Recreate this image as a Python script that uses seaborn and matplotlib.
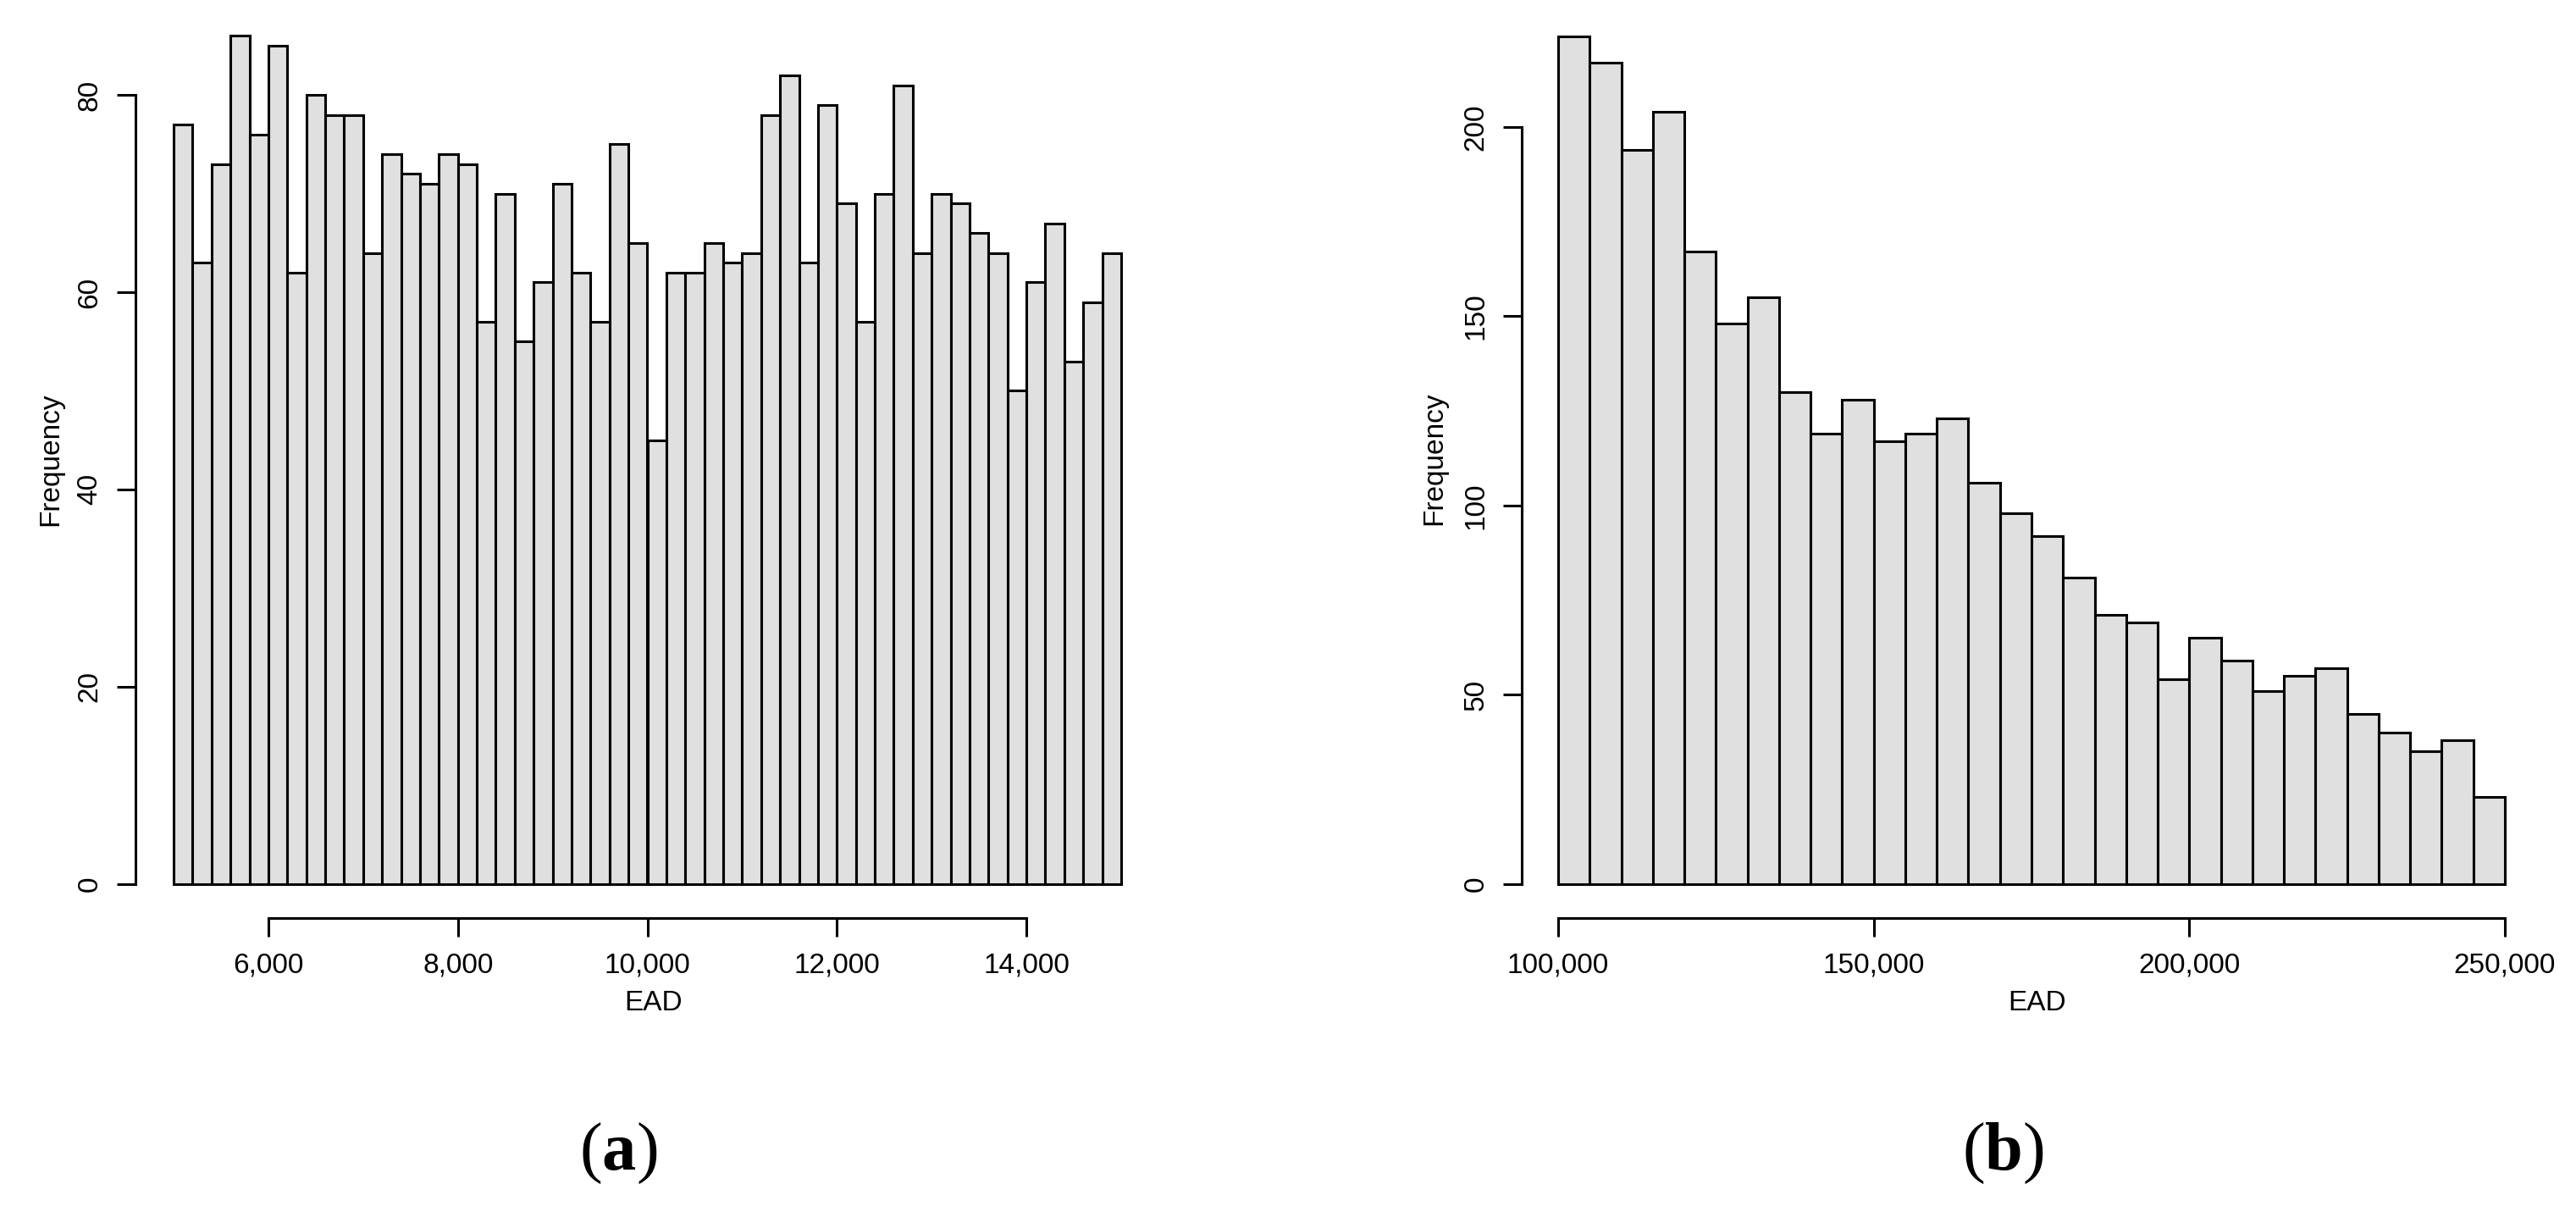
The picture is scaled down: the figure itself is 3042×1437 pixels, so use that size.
import numpy as np
import pandas as pd
import seaborn as sns
import matplotlib.pyplot as plt
from matplotlib.ticker import StrMethodFormatter

# panel (a): EAD 5,000 - 15,000, bins of 200
a_range = (5000, 15000)
a_width = 200
a_counts = [77, 63, 73, 86, 76, 85, 62, 80, 78, 78,
            64, 74, 72, 71, 74, 73, 57, 70, 55, 61,
            71, 62, 57, 75, 65, 45, 62, 62, 65, 63,
            64, 78, 82, 63, 79, 69, 57, 70, 81, 64,
            70, 69, 66, 64, 50, 61, 67, 53, 59, 64]
a_xticks = [6000, 8000, 10000, 12000, 14000]
a_yticks = [0, 20, 40, 60, 80]

# panel (b): EAD 100,000 - 250,000, bins of 5,000
b_range = (100000, 250000)
b_width = 5000
b_counts = [224, 217, 194, 204, 167, 148, 155, 130, 119, 128,
            117, 119, 123, 106, 98, 92, 81, 71, 69, 54,
            65, 59, 51, 55, 57, 45, 40, 35, 38, 23]
b_xticks = [100000, 150000, 200000, 250000]
b_yticks = [0, 50, 100, 150, 200]

sns.set_style("ticks")
plt.rcParams['font.family'] = ['Liberation Sans', 'DejaVu Sans']
plt.rcParams['text.color'] = 'black'
plt.rcParams['axes.labelcolor'] = 'black'
plt.rcParams['mathtext.fontset'] = 'custom'
plt.rcParams['mathtext.rm'] = 'Liberation Serif'
plt.rcParams['mathtext.bf'] = 'Liberation Serif:bold'

W, H = 3042, 1437
fig = plt.figure(figsize=(W / 100, H / 100), dpi=100)


def px_axes(left, width, base, height):
    return fig.add_axes([left / W, (H - base) / H, width / W, height / H])


def draw_hist(ax, rng, width, counts, xticks, yticks, ylim, left_off, lab_x, lab_y):
    mids = rng[0] + width / 2 + width * np.arange(len(counts))
    df = pd.DataFrame({"EAD": mids, "n": counts})
    sns.histplot(data=df, x="EAD", weights="n", binwidth=width, binrange=rng, ax=ax,
                 color="#E0E0E0", edgecolor="black", linewidth=2.2, alpha=1)
    for p in ax.patches:
        p.set_clip_on(False)
    ax.set_xlim(*rng)
    ax.set_ylim(*ylim)
    ax.set_xticks(xticks)
    ax.set_yticks(yticks)
    ax.xaxis.set_major_formatter(StrMethodFormatter('{x:,.0f}'))
    sns.despine(ax=ax)
    ax.spines['left'].set_position(('outward', left_off))
    ax.spines['bottom'].set_position(('outward', 29.2))
    ax.spines['left'].set_bounds(yticks[0], yticks[-1])
    ax.spines['bottom'].set_bounds(xticks[0], xticks[-1])
    for s in ('left', 'bottom'):
        ax.spines[s].set_linewidth(2.2)
        ax.spines[s].set_color('black')
    ax.tick_params(axis='both', direction='out', length=15.8, width=2.2,
                   labelsize=24, color='black', labelcolor='black')
    ax.tick_params(axis='x', pad=13.5)
    ax.tick_params(axis='y', pad=12, labelrotation=90)
    for t in ax.get_yticklabels():
        t.set_va('center')
    ax.set_xlabel("EAD", fontsize=24, color='black')
    ax.set_ylabel("Frequency", fontsize=24, color='black')
    ax.xaxis.set_label_coords(0.506, lab_y)
    ax.yaxis.set_label_coords(lab_x, 0.489)
    ax.patch.set_alpha(0)


ax1 = px_axes(205, 1119, 1043.5, 88 * 11.64)
draw_hist(ax1, a_range, a_width, a_counts, a_xticks, a_yticks, (0, 88), 32.4, -0.116, -0.1225)

ax2 = px_axes(1840, 1118, 1043.7, 230 * 4.4685)
draw_hist(ax2, b_range, b_width, b_counts, b_xticks, b_yticks, (0, 230), 31, -0.117, -0.122)

for x, lab in [(730, 'a'), (2365, 'b')]:
    fig.text(x / W, (H - 1381) / H, r'($\mathbf{%s}$)' % lab, ha='center', va='baseline',
             fontsize=58, family='Liberation Serif', color='black')

fig.savefig("out.png", dpi=100)
